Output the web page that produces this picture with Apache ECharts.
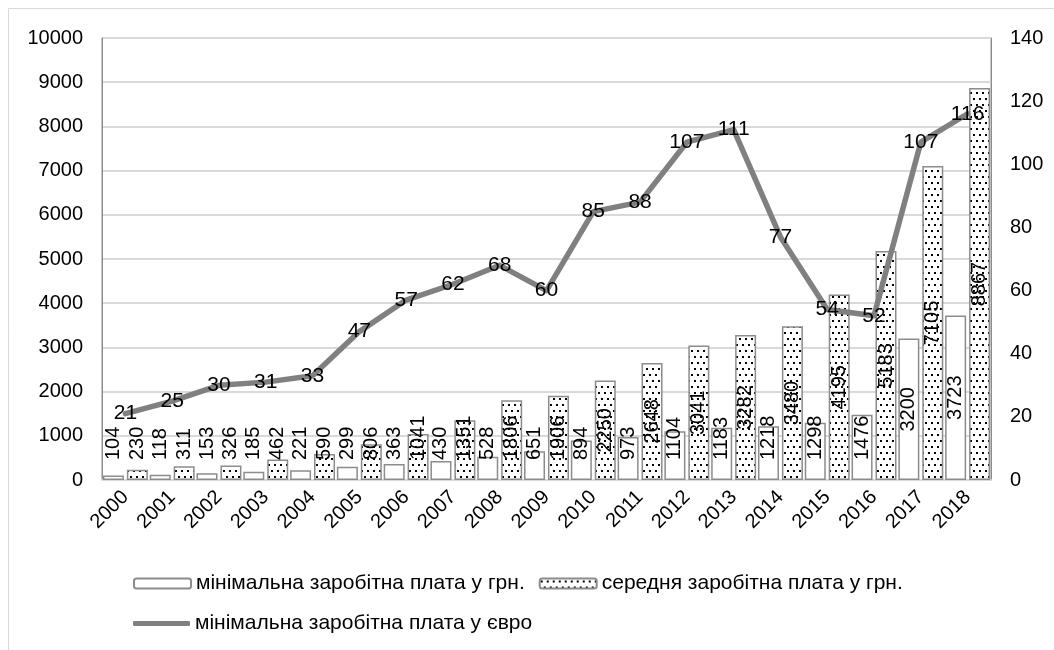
<!DOCTYPE html>
<html>
<head>
<meta charset="utf-8">
<script src="https://cdn.jsdelivr.net/npm/echarts@6/dist/echarts.min.js"></script>
<style>
html,body{margin:0;padding:0;background:#fff;}
#chart{width:1054px;height:650px;}
</style>
</head>
<body>
<div id="chart"></div>
<script>
const years = ['2000','2001','2002','2003','2004','2005','2006','2007','2008','2009','2010','2011','2012','2013','2014','2015','2016','2017','2018'];
const minWageUah = [104,118,153,185,221,299,363,430,528,651,894,973,1104,1183,1218,1298,1476,3200,3723];
const avgWageUah = [230,311,326,462,590,806,1041,1351,1806,1906,2250,2648,3041,3282,3480,4195,5183,7105,8867];
const minWageEur = [21,25,30,31,33,47,57,62,68,60,85,88,107,111,77,54,52,107,116];
const leftTicks = {min:0, max:10000, interval:1000};
const rightTicks = {min:0, max:140, interval:20};
const nameMin = 'мінімальна заробітна плата у грн.';
const nameAvg = 'середня заробітна плата у грн.';
const nameEur = 'мінімальна заробітна плата у євро';

const FONT = "'Liberation Sans', Arial, sans-serif";

// dotted pattern
const pc = document.createElement('canvas');
pc.width = 6; pc.height = 12;
const ctx = pc.getContext('2d');
ctx.fillStyle = '#fff'; ctx.fillRect(0,0,6,12);
ctx.fillStyle = '#000';
ctx.fillRect(1,2,2,2);
ctx.fillRect(4,8,2,2);
const dotted = {image: pc, repeat: 'repeat'};

const plotH = 442;
function barData(vals){
  return vals.map(v => {
    const digits = String(v).length;
    const halfBar = v * plotH / leftTicks.max / 2;
    const halfLabel = digits * 5.5;
    if (halfBar - halfLabel < 20) {
      return {value: v, label: {position: 'insideBottom', distance: 20, align: 'left', verticalAlign: 'middle'}};
    }
    return {value: v, label: {position: 'inside', align: 'center', verticalAlign: 'middle'}};
  });
}

const barLabel = {show: true, rotate: 90, color: '#000', fontSize: 20, fontFamily: FONT};

const chart = echarts.init(document.getElementById('chart'), null, {renderer: 'canvas'});
chart.setOption({
  animation: false,
  backgroundColor: '#fff',
  textStyle: {fontFamily: FONT},
  graphic: [{type: 'rect', shape: {x: 8.5, y: 8.5, width: 1200, height: 800}, style: {fill: 'none', stroke: '#d9d9d9', lineWidth: 1}, silent: true}],
  grid: {left: 102, right: 63, top: 38, bottom: 170, show: true, borderColor: '#8c8c8c', borderWidth: 1, backgroundColor: 'transparent'},
  legend: [
    {data: [nameMin, nameAvg], left: 128, top: 568, itemWidth: 57, itemHeight: 10, itemGap: 14,
     textStyle: {fontSize: 21, color: '#000', fontFamily: FONT}},
    {data: [{name: nameEur, icon: 'roundRect'}], left: 128, top: 608, itemWidth: 57, itemHeight: 5,
     textStyle: {fontSize: 21, color: '#000', fontFamily: FONT}}
  ],
  xAxis: {
    type: 'category', data: years,
    axisLine: {show: true, lineStyle: {color: '#d9d9d9', width: 2}},
    axisTick: {show: false},
    axisLabel: {rotate: 45, fontSize: 20, color: '#000', margin: 14, fontFamily: FONT, interval: 0}
  },
  yAxis: [
    {type: 'value', min: leftTicks.min, max: leftTicks.max, interval: leftTicks.interval,
     axisLine: {show: true, lineStyle: {color: '#8c8c8c', width: 1}},
     axisTick: {show: false},
     splitLine: {show: true, lineStyle: {color: '#d9d9d9', width: 2}},
     axisLabel: {fontSize: 20, color: '#000', margin: 19, fontFamily: FONT, formatter: v => String(v)}},
    {type: 'value', min: rightTicks.min, max: rightTicks.max, interval: rightTicks.interval,
     position: 'right',
     axisLine: {show: true, lineStyle: {color: '#8c8c8c', width: 1}},
     axisTick: {show: false},
     splitLine: {show: false},
     axisLabel: {fontSize: 20, color: '#000', margin: 19, fontFamily: FONT, formatter: v => String(v)}}
  ],
  series: [
    {name: nameMin, type: 'bar', data: barData(minWageUah), barWidth: 21, barGap: '14%',
     itemStyle: {color: '#fff', borderColor: '#8c8c8c', borderWidth: 1.5},
     label: barLabel, z: 2},
    {name: nameAvg, type: 'bar', data: barData(avgWageUah), barWidth: 21, barGap: '14%',
     itemStyle: {color: dotted, borderColor: '#8c8c8c', borderWidth: 1.5},
     label: barLabel, z: 2},
    {name: nameEur, type: 'line', yAxisIndex: 1, data: minWageEur,
     symbol: 'circle', symbolSize: 2, showSymbol: true,
     itemStyle: {color: '#808080'},
     lineStyle: {color: '#808080', width: 5.5, cap: 'round', join: 'round'},
     label: {show: true, position: 'inside', color: '#000', fontSize: 21, fontFamily: FONT},
     z: 5}
  ]
});
</script>
</body>
</html>
